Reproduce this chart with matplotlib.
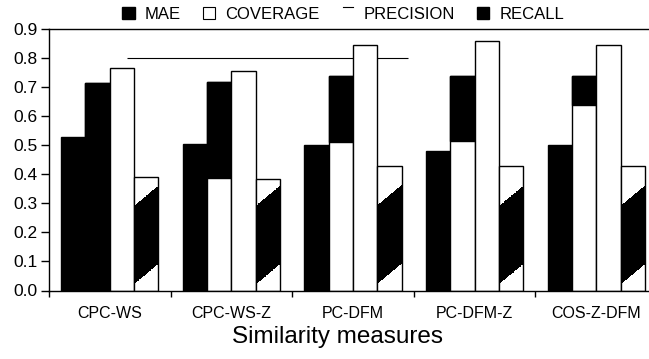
import numpy as np
import matplotlib
matplotlib.use("Agg")
import matplotlib.pyplot as plt
from matplotlib.lines import Line2D
from matplotlib.patches import Rectangle
from matplotlib.legend_handler import HandlerBase

plt.rcParams['font.family'] = ['Liberation Sans', 'DejaVu Sans']

categories = ["CPC-WS", "CPC-WS-Z", "PC-DFM", "PC-DFM-Z", "COS-Z-DFM"]
mae = [0.527, 0.504, 0.500, 0.479, 0.500]
coverage = [0.714, 0.717, 0.737, 0.737, 0.737]
coverage_shade_from = [0.0, 0.387, 0.511, 0.513, 0.637]
precision = [0.766, 0.754, 0.844, 0.860, 0.846]
recall = [0.392, 0.384, 0.427, 0.430, 0.427]
series_names = ["MAE", "COVERAGE", "PRECISION", "RECALL"]

# style of the thresholded gradient inside recall bars
BAND_LO, BAND_HI, BAND_SLOPE = 0.02, 0.29, 0.07

fig = plt.figure(figsize=(6.49, 3.59), dpi=100)
ax = fig.add_axes([49/649, 68.5/359, 608/649, 261.5/359])

x = np.arange(len(categories))
w = 0.2
offs = [-1.5*w, -0.5*w, 0.5*w, 1.5*w]

ax.bar(x + offs[0], mae, w, color='black', edgecolor='black', lw=1, zorder=2)
ax.bar(x + offs[1], coverage, w, color='white', edgecolor='black', lw=1, zorder=2)
ax.bar(x + offs[1], np.array(coverage) - np.array(coverage_shade_from), w,
       bottom=coverage_shade_from, color='black', edgecolor='black', lw=1, zorder=2)
ax.bar(x + offs[2], precision, w, color='white', edgecolor='black', lw=1, zorder=2)
rb = ax.bar(x + offs[3], recall, w, color='white', edgecolor='black', lw=1, zorder=2)

for p in rb:
    x0 = p.get_x(); x1 = x0 + p.get_width(); h = p.get_height()
    nr, nc = 300, 60
    T = np.linspace(0, 1, nc)[None, :]
    Y = np.linspace(0, h, nr)[:, None]
    v = Y - BAND_SLOPE * T
    cond = (v >= BAND_LO) & (v <= BAND_HI)
    img = np.zeros((nr, nc, 4))
    img[..., 3] = cond.astype(float)
    im = ax.imshow(img, extent=[x0, x1, 0, h], origin='lower', aspect='auto',
                   interpolation='nearest', zorder=2.5)
    im.set_clip_path(p)

ax.hlines(0.8, 0.14, 2.45, colors='black', lw=0.8, zorder=1)

ax.set_xlim(-0.5, 4.5)
ax.set_ylim(0, 0.9)
ax.set_yticks(np.arange(0, 0.91, 0.1))
ax.set_yticklabels([f"{v:.1f}" for v in np.arange(0, 0.91, 0.1)], fontsize=12.5)
ax.tick_params(axis='y', direction='out', length=6, width=1, pad=2)
ax.set_xticks(x)
ax.set_xticklabels(categories, fontsize=11.5)
ax.tick_params(axis='x', which='major', length=0, pad=11)
ax.set_xticks(np.arange(-0.5, 4.6, 1.0), minor=True)
ax.tick_params(axis='x', which='minor', direction='out', length=4, width=1)
ax.spines['right'].set_visible(False)
for s in ['left', 'bottom', 'top']:
    ax.spines[s].set_linewidth(1)
ax.set_xlabel("Similarity measures", fontsize=17.5)
ax.xaxis.set_label_coords(0.475, -0.135)


class TopLineHandler(HandlerBase):
    def create_artists(self, legend, orig_handle, xdescent, ydescent, width,
                       height, fontsize, trans):
        l = Line2D([-xdescent + width*0.1, -xdescent + width*0.9],
                   [-ydescent + height, -ydescent + height],
                   color='black', lw=0.8, transform=trans)
        return [l]


class Dummy:
    pass

h1 = Rectangle((0, 0), 1, 1, facecolor='black', edgecolor='black')
h2 = Rectangle((0, 0), 1, 1, facecolor='white', edgecolor='black', lw=0.8)
h3 = Dummy()
h4 = Rectangle((0, 0), 1, 1, facecolor='black', edgecolor='black')
ax.legend([h1, h2, h3, h4], series_names, handler_map={Dummy: TopLineHandler()},
          loc='center', bbox_to_anchor=(0.484, 1.057), ncol=4, frameon=False,
          fontsize=12, handlelength=0.75, handleheight=0.75, handletextpad=0.6,
          columnspacing=1.3, borderpad=0, borderaxespad=0)

fig.savefig("out.png", dpi=100)
